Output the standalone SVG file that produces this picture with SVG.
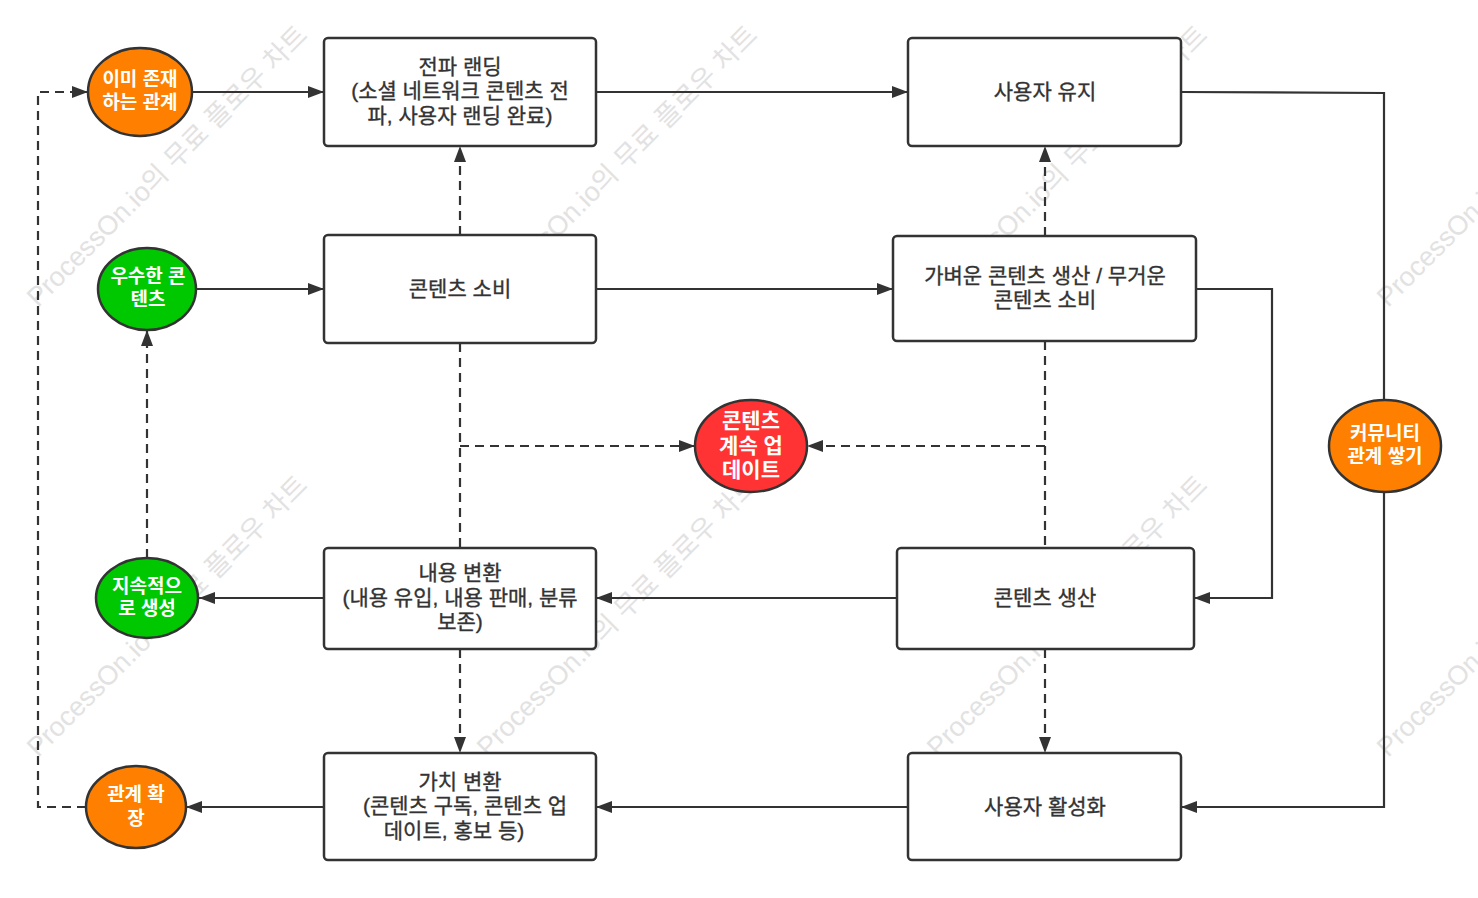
<svg xmlns="http://www.w3.org/2000/svg" width="1478" height="898" viewBox="0 0 1478 898">
<style>
.wm{font-family:"Liberation Sans","Noto Sans CJK KR",sans-serif;font-size:27px;fill:#e2e2e2}
.box{fill:#fff;stroke:#333;stroke-width:2.5}
.el{stroke:#333;stroke-width:2.5}
.bt{font-family:"Liberation Sans","Noto Sans CJK KR",sans-serif;font-size:21px;fill:#333;stroke:#333;stroke-width:0.35;text-anchor:middle}
.ct{font-family:"Liberation Sans","Noto Sans CJK KR",sans-serif;font-size:19px;font-weight:bold;fill:#fff;text-anchor:middle}
.ln{fill:none;stroke:#333;stroke-width:2.2}
.ds{stroke-dasharray:9 6}
</style>
<defs>
<marker id="ar" markerUnits="userSpaceOnUse" markerWidth="16" markerHeight="12" refX="16" refY="6" orient="auto">
<path d="M0,0 L16,6 L0,12 Z" fill="#333"/>
</marker>
</defs>
<rect width="1478" height="898" fill="#fff"/>
<g id="watermarks">
<text class="wm" transform="translate(38,308) rotate(-45)">ProcessOn.io의 무료 플로우 차트</text>
<text class="wm" transform="translate(488,308) rotate(-45)">ProcessOn.io의 무료 플로우 차트</text>
<text class="wm" transform="translate(938,308) rotate(-45)">ProcessOn.io의 무료 플로우 차트</text>
<text class="wm" transform="translate(1388,308) rotate(-45)">ProcessOn.io의 무료 플로우 차트</text>
<text class="wm" transform="translate(38,758) rotate(-45)">ProcessOn.io의 무료 플로우 차트</text>
<text class="wm" transform="translate(488,758) rotate(-45)">ProcessOn.io의 무료 플로우 차트</text>
<text class="wm" transform="translate(938,758) rotate(-45)">ProcessOn.io의 무료 플로우 차트</text>
<text class="wm" transform="translate(1388,758) rotate(-45)">ProcessOn.io의 무료 플로우 차트</text>
</g>
<g id="connectors">
<path class="ln" d="M193,92 L324,92" marker-end="url(#ar)"/>
<path class="ln" d="M596,92 L908,92" marker-end="url(#ar)"/>
<path class="ln" d="M1181,92 L1384,93 L1384,400"/>
<path class="ln" d="M1384,492 L1384,807 L1181,807" marker-end="url(#ar)"/>
<path class="ln ds" d="M460,235 L460,146" marker-end="url(#ar)"/>
<path class="ln" d="M197,289 L324,289" marker-end="url(#ar)"/>
<path class="ln" d="M596,289 L893,289" marker-end="url(#ar)"/>
<path class="ln ds" d="M1045,236 L1045,146" marker-end="url(#ar)"/>
<path class="ln" d="M1196,289 L1272,289 L1272,598 L1194,598" marker-end="url(#ar)"/>
<path class="ln ds" d="M460,343 L460,548"/>
<path class="ln ds" d="M460,446 L695,446" marker-end="url(#ar)"/>
<path class="ln ds" d="M1045,341 L1045,548"/>
<path class="ln ds" d="M1045,446 L807,446" marker-end="url(#ar)"/>
<path class="ln" d="M897,598 L596,598" marker-end="url(#ar)"/>
<path class="ln" d="M324,598 L199,598" marker-end="url(#ar)"/>
<path class="ln ds" d="M147,558 L147,330" marker-end="url(#ar)"/>
<path class="ln ds" d="M460,649 L460,753" marker-end="url(#ar)"/>
<path class="ln ds" d="M1045,649 L1045,753" marker-end="url(#ar)"/>
<path class="ln" d="M908,807 L596,807" marker-end="url(#ar)"/>
<path class="ln" d="M324,807 L186,807" marker-end="url(#ar)"/>
<path class="ln ds" d="M86,807 L38,807 L38,92 L88,92" marker-end="url(#ar)"/>
</g>
<g id="n-landing">
<rect class="box" x="324" y="38" width="272" height="108" rx="4"/>
<text class="bt" x="460" y="74">전파 랜딩</text>
<text class="bt" x="460" y="98">(소셜 네트워크 콘텐츠 전</text>
<text class="bt" x="460" y="123">파, 사용자 랜딩 완료)</text>
</g>
<g id="n-retain">
<rect class="box" x="908" y="38" width="273" height="108" rx="4"/>
<text class="bt" x="1045" y="99">사용자 유지</text>
</g>
<g id="n-consume">
<rect class="box" x="324" y="235" width="272" height="108" rx="4"/>
<text class="bt" x="460" y="296">콘텐츠 소비</text>
</g>
<g id="n-light">
<rect class="box" x="893" y="236" width="303" height="105" rx="4"/>
<text class="bt" x="1045" y="283">가벼운 콘텐츠 생산 / 무거운</text>
<text class="bt" x="1045" y="307">콘텐츠 소비</text>
</g>
<g id="n-transform">
<rect class="box" x="324" y="548" width="272" height="101" rx="4"/>
<text class="bt" x="460" y="580">내용 변환</text>
<text class="bt" x="460" y="605">(내용 유입, 내용 판매, 분류</text>
<text class="bt" x="460" y="629">보존)</text>
</g>
<g id="n-produce">
<rect class="box" x="897" y="548" width="297" height="101" rx="4"/>
<text class="bt" x="1045" y="605">콘텐츠 생산</text>
</g>
<g id="n-value">
<rect class="box" x="324" y="753" width="272" height="107" rx="4"/>
<text class="bt" x="460" y="789">가치 변환</text>
<text class="bt" x="465" y="813">(콘텐츠 구독, 콘텐츠 업</text>
<text class="bt" x="454" y="838">데이트, 홍보 등)</text>
</g>
<g id="n-activate">
<rect class="box" x="908" y="753" width="273" height="107" rx="4"/>
<text class="bt" x="1045" y="814">사용자 활성화</text>
</g>
<g id="c-existing">
<ellipse class="el" cx="140" cy="92" rx="52" ry="44" fill="#ff8000"/>
<text class="ct" x="140" y="86">이미 존재</text>
<text class="ct" x="140" y="109">하는 관계</text>
</g>
<g id="c-excellent">
<ellipse class="el" cx="147" cy="289" rx="49" ry="41" fill="#00c800"/>
<text class="ct" x="148" y="283">우수한 콘</text>
<text class="ct" x="148" y="306">텐츠</text>
</g>
<g id="c-continuous">
<ellipse class="el" cx="147" cy="598" rx="51" ry="40" fill="#00c800"/>
<text class="ct" x="147" y="593">지속적으</text>
<text class="ct" x="147" y="615">로 생성</text>
</g>
<g id="c-expand">
<ellipse class="el" cx="136" cy="807" rx="50" ry="41" fill="#ff8000"/>
<text class="ct" x="136" y="801">관계 확</text>
<text class="ct" x="136" y="825">장</text>
</g>
<g id="c-update">
<ellipse class="el" cx="751" cy="446" rx="56" ry="46" fill="#ff3333"/>
<text class="ct" x="751" y="428" style="font-size:21px">콘텐츠</text>
<text class="ct" x="751" y="453" style="font-size:21px">계속 업</text>
<text class="ct" x="751" y="477" style="font-size:21px">데이트</text>
</g>
<g id="c-community">
<ellipse class="el" cx="1385" cy="446" rx="56" ry="46" fill="#ff8000"/>
<text class="ct" x="1385" y="440">커뮤니티</text>
<text class="ct" x="1385" y="463">관계 쌓기</text>
</g>
</svg>
